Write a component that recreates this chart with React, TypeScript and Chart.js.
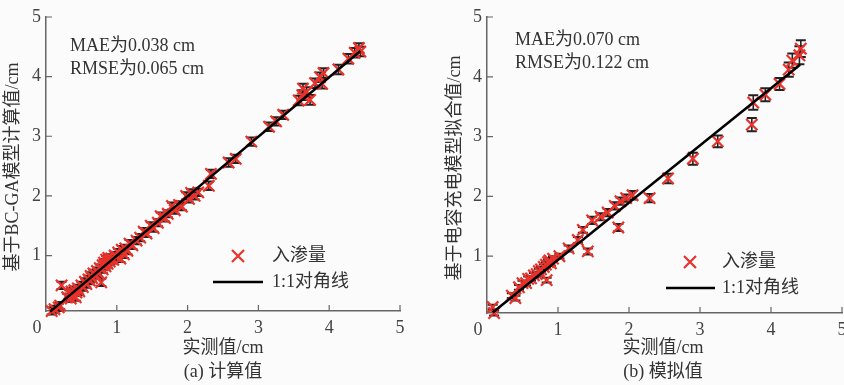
import React, { useEffect, useRef } from "react";
import { Chart, registerables } from "chart.js";

Chart.register(...registerables);

const FONT = '"Liberation Serif", "Noto Sans CJK SC", serif';

// Tick labels
const xTicks = [0, 1, 2, 3, 4, 5];
const yTicks = [1, 2, 3, 4, 5];

// Panel (a): BC-GA model computed values
const calcMeasured = [
  0.08, 0.12, 0.18, 0.2, 0.22, 0.3, 0.33, 0.35, 0.36, 0.38, 0.4, 0.42, 0.43, 0.45, 0.47,
  0.5, 0.52, 0.55, 0.57, 0.6, 0.62, 0.63, 0.65, 0.67, 0.7, 0.72, 0.74, 0.76, 0.78, 0.8,
  0.8, 0.82, 0.84, 0.85, 0.87, 0.88, 0.9, 0.92, 0.95, 0.97, 1.0, 1.02, 1.05, 1.07, 1.1,
  1.12, 1.15, 1.18, 1.22, 1.28, 1.33, 1.38, 1.42, 1.48, 1.52, 1.58, 1.62, 1.68, 1.72, 1.78,
  1.82, 1.88, 1.92, 1.98, 2.02, 2.05, 2.1, 2.15, 2.3, 2.33, 2.58, 2.68, 2.9, 3.15, 3.25,
  3.35, 3.57, 3.62, 3.63, 3.68, 3.73, 3.8, 3.87, 3.92, 3.9, 4.13, 4.27, 4.36, 4.42, 4.44,
];
const calcValues = [
  0.07, 0.1, 0.13, 0.16, 0.5, 0.3, 0.36, 0.28, 0.4, 0.33, 0.42, 0.3, 0.38, 0.45, 0.4,
  0.5, 0.47, 0.56, 0.52, 0.6, 0.58, 0.66, 0.62, 0.7, 0.68, 0.74, 0.7, 0.79, 0.55, 0.77,
  0.84, 0.88, 0.82, 0.93, 0.86, 0.96, 0.9, 0.95, 0.93, 1.0, 0.98, 1.05, 0.95, 1.1, 1.02,
  1.12, 1.08, 1.2, 1.17, 1.25, 1.3, 1.4, 1.37, 1.5, 1.46, 1.55, 1.66, 1.63, 1.7, 1.83,
  1.76, 1.85, 1.82, 2.0, 1.95, 2.05, 2.0, 2.06, 2.17, 2.37, 2.56, 2.62, 2.91, 3.16, 3.25,
  3.36, 3.6, 3.69, 3.8, 3.74, 3.61, 3.89, 3.99, 4.06, 3.88, 4.12, 4.3, 4.4, 4.48, 4.42,
];
const calcErrors = [
  0.06, 0.06, 0.06, 0.06, 0.06, 0.06, 0.06, 0.06, 0.06, 0.06, 0.06, 0.06, 0.06, 0.06, 0.06,
  0.06, 0.06, 0.06, 0.06, 0.06, 0.06, 0.06, 0.06, 0.06, 0.06, 0.06, 0.06, 0.06, 0.06, 0.06,
  0.06, 0.06, 0.06, 0.06, 0.06, 0.06, 0.06, 0.06, 0.06, 0.06, 0.06, 0.06, 0.06, 0.06, 0.06,
  0.06, 0.06, 0.06, 0.06, 0.06, 0.06, 0.06, 0.06, 0.06, 0.06, 0.06, 0.06, 0.06, 0.06, 0.06,
  0.06, 0.06, 0.06, 0.06, 0.06, 0.06, 0.06, 0.06, 0.07, 0.07, 0.07, 0.07, 0.07, 0.07, 0.07,
  0.07, 0.08, 0.08, 0.08, 0.08, 0.08, 0.08, 0.08, 0.08, 0.08, 0.08, 0.08, 0.08, 0.08, 0.08,
];
const calcLineX = [0.06, 4.44];
const calcLineY = [0.06, 4.43];

// Panel (b): capacitor-charging model fitted values
const fitMeasured = [
  0.08, 0.1, 0.35, 0.4, 0.45, 0.5, 0.55, 0.58, 0.62, 0.66, 0.7, 0.73, 0.76, 0.8, 0.83,
  0.84, 0.86, 0.88, 0.9, 0.93, 1.02, 1.15, 1.28, 1.35, 1.42, 1.48, 1.6, 1.7, 1.8, 1.85,
  1.88, 1.96, 2.05, 2.29, 2.55, 2.9, 3.25, 3.73, 3.75, 3.92, 4.12, 4.25, 4.3, 4.4, 4.42,
];
const fitValues = [
  0.15, 0.05, 0.34, 0.3, 0.48, 0.55, 0.55, 0.62, 0.63, 0.68, 0.7, 0.75, 0.78, 0.82, 0.86,
  0.6, 0.9, 0.93, 0.88, 0.96, 1.0, 1.13, 1.27, 1.44, 1.08, 1.6, 1.66, 1.73, 1.84, 1.48,
  1.92, 1.97, 2.02, 1.97, 2.3, 2.63, 2.92, 3.2, 3.57, 3.7, 3.88, 4.12, 4.27, 4.36, 4.47,
];
const fitErrors = [
  0.04, 0.04, 0.04, 0.04, 0.04, 0.04, 0.04, 0.04, 0.04, 0.04, 0.04, 0.04, 0.04, 0.04, 0.04,
  0.04, 0.04, 0.04, 0.04, 0.04, 0.04, 0.05, 0.05, 0.05, 0.05, 0.06, 0.06, 0.06, 0.06, 0.06,
  0.06, 0.06, 0.07, 0.07, 0.08, 0.1, 0.1, 0.11, 0.12, 0.11, 0.1, 0.12, 0.12, 0.15, 0.14,
];
const fitLineX = [0.08, 4.41];
const fitLineY = [0.06, 4.2];

const RED = "#e8322b";
const TEXT = "#333333";
const AXIS = "#666666";

type Panel = {
  width: number;
  measured: number[];
  values: number[];
  errors: number[];
  lineX: number[];
  lineY: number[];
  yMin: number;
  yWidth: number;
  padding: { top: number; left: number; right: number; bottom: number };
  mae: string;
  rmse: string;
  textX: number;
  maeY: number;
  rmseY: number;
  xTitle: string;
  yTitle: string;
  caption: string;
  xTitleX: number;
  yTitleX: number;
  yTitleY: number;
  legendMarkerX: number;
  legendMarkerY: number;
  legendLineX0: number;
  legendLineX1: number;
  legendLineY: number;
  legendTextX: number;
  legendPoint: string;
  legendLine: string;
};

function makePlugin(p: Panel) {
  return {
    id: "panelDecor",
    beforeDatasetsDraw(chart: any) {
      const { ctx } = chart;
      const xs = chart.scales.x;
      const ys = chart.scales.y;
      ctx.save();
      ctx.strokeStyle = "#222222";
      const cap = 5;
      p.measured.forEach((m, i) => {
        const px = xs.getPixelForValue(m);
        const top = ys.getPixelForValue(p.values[i] + p.errors[i]);
        const bot = ys.getPixelForValue(p.values[i] - p.errors[i]);
        ctx.lineWidth = 1.6;
        ctx.beginPath();
        ctx.moveTo(px, top);
        ctx.lineTo(px, bot);
        ctx.stroke();
        ctx.lineWidth = 2;
        ctx.beginPath();
        ctx.moveTo(px - cap, top);
        ctx.lineTo(px + cap, top);
        ctx.moveTo(px - cap, bot);
        ctx.lineTo(px + cap, bot);
        ctx.stroke();
      });
      ctx.restore();
    },
    afterDraw(chart: any) {
      const { ctx, chartArea } = chart;
      const xs = chart.scales.x;
      const ys = chart.scales.y;
      ctx.save();
      // inward ticks
      ctx.strokeStyle = AXIS;
      ctx.lineWidth = 1.2;
      ctx.beginPath();
      xTicks.forEach((v) => {
        if (v === 0) return;
        const px = xs.getPixelForValue(v);
        ctx.moveTo(px, chartArea.bottom);
        ctx.lineTo(px, chartArea.bottom - 6);
      });
      yTicks.forEach((v) => {
        const py = ys.getPixelForValue(v);
        ctx.moveTo(chartArea.left, py);
        ctx.lineTo(chartArea.left + 6, py);
      });
      ctx.stroke();

      ctx.fillStyle = TEXT;
      ctx.font = `18px ${FONT}`;
      ctx.textBaseline = "middle";
      // annotations
      ctx.textAlign = "left";
      ctx.fillText(p.mae, p.textX, p.maeY);
      ctx.fillText(p.rmse, p.textX, p.rmseY);
      // axis titles
      ctx.textAlign = "center";
      ctx.fillText(p.xTitle, p.xTitleX, 348);
      ctx.fillText(p.caption, p.xTitleX, 372);
      ctx.save();
      ctx.translate(p.yTitleX, p.yTitleY);
      ctx.rotate(-Math.PI / 2);
      ctx.fillText(p.yTitle, 0, 0);
      ctx.restore();
      // legend
      const r = 6;
      ctx.strokeStyle = RED;
      ctx.lineWidth = 2.2;
      ctx.beginPath();
      ctx.moveTo(p.legendMarkerX - r, p.legendMarkerY - r);
      ctx.lineTo(p.legendMarkerX + r, p.legendMarkerY + r);
      ctx.moveTo(p.legendMarkerX - r, p.legendMarkerY + r);
      ctx.lineTo(p.legendMarkerX + r, p.legendMarkerY - r);
      ctx.stroke();
      ctx.strokeStyle = "#000000";
      ctx.lineWidth = 2.5;
      ctx.beginPath();
      ctx.moveTo(p.legendLineX0, p.legendLineY);
      ctx.lineTo(p.legendLineX1, p.legendLineY);
      ctx.stroke();
      ctx.textAlign = "left";
      ctx.fillStyle = TEXT;
      ctx.fillText(p.legendPoint, p.legendTextX, p.legendMarkerY);
      ctx.fillText(p.legendLine, p.legendTextX, p.legendLineY);
      ctx.restore();
    },
  };
}

function PanelChart({ p, left }: { p: Panel; left: number }) {
  const ref = useRef<HTMLCanvasElement | null>(null);
  useEffect(() => {
    if (!ref.current) return;
    const chart = new Chart(ref.current, {
      type: "scatter",
      data: {
        datasets: [
          {
            type: "line",
            data: p.lineX.map((x, i) => ({ x, y: p.lineY[i] })),
            borderColor: "#000000",
            borderWidth: 2.5,
            pointRadius: 0,
            showLine: true,
            fill: false,
            clip: false,
          } as any,
          {
            data: p.measured.map((x, i) => ({ x, y: p.values[i] })),
            pointStyle: "crossRot",
            pointRadius: 8,
            borderColor: RED,
            backgroundColor: RED,
            borderWidth: 2.2,
            clip: false,
          } as any,
        ],
      },
      options: {
        animation: false,
        responsive: false,
        maintainAspectRatio: false,
        layout: { padding: p.padding },
        plugins: {
          legend: { display: false },
          tooltip: { enabled: false },
        },
        scales: {
          x: {
            type: "linear",
            min: 0,
            max: 5,
            afterBuildTicks: (s: any) => {
              s.ticks = xTicks.map((v) => ({ value: v }));
            },
            afterFit: (s: any) => {
              s.height = 30;
            },
            ticks: {
              font: { family: FONT, size: 18 },
              color: "#444444",
              padding: 6,
              maxRotation: 0,
              callback: (v: any) => (v === 0 ? "0\u2002\u2002" : String(v)),
            },
            grid: { display: true, drawOnChartArea: false, drawTicks: false },
            border: { display: true, color: AXIS, width: 1.5 },
          },
          y: {
            type: "linear",
            min: p.yMin,
            max: 5,
            afterBuildTicks: (s: any) => {
              s.ticks = yTicks.map((v) => ({ value: v }));
            },
            afterFit: (s: any) => {
              s.width = p.yWidth;
            },
            ticks: {
              font: { family: FONT, size: 18 },
              color: "#444444",
              padding: 5,
              callback: (v: any) => String(v),
            },
            grid: { display: true, drawOnChartArea: false, drawTicks: false },
            border: { display: true, color: AXIS, width: 1.5 },
          },
        },
      } as any,
      plugins: [makePlugin(p)],
    });
    return () => chart.destroy();
  }, [p]);
  return (
    <canvas
      ref={ref}
      width={p.width}
      height={385}
      style={{ position: "absolute", left, top: 0, width: p.width, height: 385, display: "block" }}
    />
  );
}

const panelA: Panel = {
  width: 420,
  measured: calcMeasured,
  values: calcValues,
  errors: calcErrors,
  lineX: calcLineX,
  lineY: calcLineY,
  yMin: 0.07,
  yWidth: 46,
  padding: { top: 17, left: 0, right: 20, bottom: 44 },
  mae: "MAE为0.038 cm",
  rmse: "RMSE为0.065 cm",
  textX: 70,
  maeY: 46,
  rmseY: 69,
  xTitle: "实测值/cm",
  yTitle: "基于BC-GA模型计算值/cm",
  caption: "(a) 计算值",
  xTitleX: 223,
  yTitleX: 13,
  yTitleY: 167,
  legendMarkerX: 238,
  legendMarkerY: 256,
  legendLineX0: 213,
  legendLineX1: 263,
  legendLineY: 282,
  legendTextX: 272,
  legendPoint: "入渗量",
  legendLine: "1:1对角线",
};

const panelB: Panel = {
  width: 440,
  measured: fitMeasured,
  values: fitValues,
  errors: fitErrors,
  lineX: fitLineX,
  lineY: fitLineY,
  yMin: 0.05,
  yWidth: 67,
  padding: { top: 17, left: 0, right: 18, bottom: 42 },
  mae: "MAE为0.070 cm",
  rmse: "RMSE为0.122 cm",
  textX: 95,
  maeY: 40,
  rmseY: 63,
  xTitle: "实测值/cm",
  yTitle: "基于电容充电模型拟合值/cm",
  caption: "(b) 模拟值",
  xTitleX: 243,
  yTitleX: 35,
  yTitleY: 168,
  legendMarkerX: 270,
  legendMarkerY: 262,
  legendLineX0: 246,
  legendLineX1: 295,
  legendLineY: 288,
  legendTextX: 302,
  legendPoint: "入渗量",
  legendLine: "1:1对角线",
};

export default function App() {
  return (
    <div
      style={{
        position: "fixed",
        left: 0,
        top: 0,
        width: 844,
        height: 385,
        overflow: "hidden",
        background: "#fbfbfb",
      }}
    >
      <PanelChart p={panelA} left={0} />
      <PanelChart p={panelB} left={420} />
    </div>
  );
}
